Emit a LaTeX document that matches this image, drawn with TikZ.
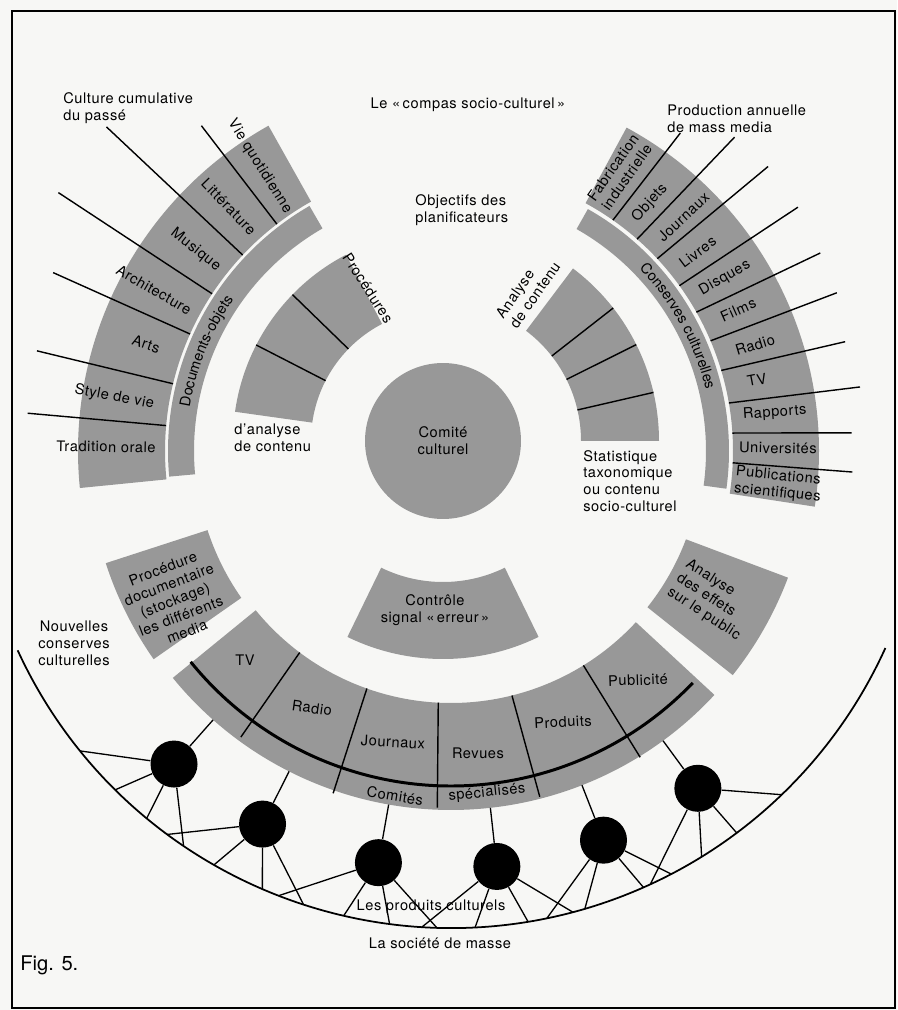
\documentclass[tikz,border=0pt]{standalone}
\usepackage{fontspec}
\setmainfont{TeX Gyre Heros}
\newfontfamily\lblfamily[LetterSpace=4.0]{TeX Gyre Heros}
\usetikzlibrary{decorations.text}
\definecolor{bandgray}{RGB}{152,152,152}
\definecolor{paper}{RGB}{247,247,245}
\newcommand{\lblfont}{\lblfamily\fontsize{8.3}{9.6}\selectfont}

\begin{document}
\begin{tikzpicture}[x=0.02cm, y=0.02cm,
    band/.style={fill=bandgray},
    rule/.style={line width=0.8pt},
    link/.style={line width=0.75pt},
    lbl/.style={font=\lblfont, inner sep=0pt},
    dot/.style={circle, fill=black, minimum size=0.94cm, inner sep=0pt}]

    % page and frame
    \fill[paper] (-451,451) rectangle (446,-559);
    \useasboundingbox (-451,451) rectangle (446,-559);
    \draw[line width=1.3pt] (-439,440) rectangle (444,-557);

    % outer rings
    \fill[band] (119.3:286) arc[start angle=119.3, end angle=185.7, radius=286] -- (185.7:373) arc[start angle=185.7, end angle=119.3, radius=373] -- cycle;
    \fill[band] (120:257) arc[start angle=120, end angle=185.2, radius=257] -- (185.2:283) arc[start angle=185.2, end angle=120, radius=283] -- cycle;
    \fill[band] (-8.7:282) arc[start angle=-8.7, end angle=61.5, radius=282] -- (61.5:368) arc[start angle=61.5, end angle=-8.7, radius=368] -- cycle;
    \fill[band] (-7.8:255) arc[start angle=-7.8, end angle=60.5, radius=255] -- (60.5:278) arc[start angle=60.5, end angle=-7.8, radius=278] -- cycle;
    \fill[band] (198:256) arc[start angle=198, end angle=215, radius=256] -- (215:363) arc[start angle=215, end angle=198, radius=363] -- cycle;
    \fill[band] (-38.5:251) arc[start angle=-38.5, end angle=-20.6, radius=251] -- (-20.6:360) arc[start angle=-20.6, end angle=-38.5, radius=360] -- cycle;
    \fill[band] (219.2:252) arc[start angle=219.2, end angle=317.2, radius=252] -- (317.2:359) arc[start angle=317.2, end angle=219.2, radius=359] -- cycle;

    % inner ring
    \begin{scope}[shift={(-8,10)}]
        \fill[band] (117.5:132) arc[start angle=117.5, end angle=172, radius=132] -- (172:210) arc[start angle=172, end angle=117.5, radius=210] -- cycle;
        \fill[band] (0:138) arc[start angle=0, end angle=53, radius=138] -- (53:216) arc[start angle=53, end angle=0, radius=216] -- cycle;
        \fill[band] (244:141) arc[start angle=244, end angle=296, radius=141] -- (296:218) arc[start angle=296, end angle=244, radius=218] -- cycle;
        \foreach \a in {135.8, 152.8}
            \draw[rule] (\a:132) -- (\a:210);
        \foreach \a in {13, 26.5, 38}
            \draw[rule] (\a:138) -- (\a:216);
    \end{scope}

    % dividers
    \foreach \a/\r in {127.5/410, 136.75/473, 146.65/470, 155.85/436, 166.4/426, 174.9/425}
        \draw[rule] (\a:286) -- (\a:\r);
    \foreach \a/\b/\r in {54.96/54.2/392, 48.7/47.9/423, 43/41.9/426, 35.9/35.1/424, 29.5/28.2/419, 23/22.3/417, 16.6/15.5/409, 9.8/8.9/414, 3.65/2.6/401, -2.4/-3/402}
        \draw[rule] (\a:282) -- (\b:\r);
    \foreach \a/\b/\r in {233.1/233.7/355, 250.5/251/362, 267.1/267.8/357, 284/284.4/357, 301.7/301.7/360}
        \draw[rule] (\a:252) -- (\b:\r);
    \draw[line width=1.7pt] (219:335) arc[start angle=219, end angle=316.2, radius=335];

    % mass society
    \draw[line width=1pt] (204.7:477) arc[start angle=204.7, end angle=335.6, radius=477];
    \foreach \i/\a in {1/228.5, 2/243.2, 3/260, 4/276.3, 5/291.4, 6/306.2} {
        \node[dot] (d\i) at (\a:418) {};
        \coordinate (r\i) at (\a:359);
        \draw[link] (d\i) -- (r\i);
    }
    \foreach \i/\k/\a in {1/1/218.96, 1/2/225.26, 1/3/230.36, 1/4/235.9,
                          2/1/233.5, 2/2/240.2, 2/3/246.7, 2/4/252,
                          3/1/248.8, 3/2/257, 3/3/262.6, 3/4/268.3,
                          4/1/266.5, 4/2/272.9, 4/3/279.3, 4/4/284.8,
                          5/1/281.6, 5/2/286.3, 5/3/293.8, 5/4/297.5,
                          6/1/294.7, 6/2/301.7, 6/3/306.8, 6/4/313.9} {
        \coordinate (m\i\k) at (\a:477);
        \draw[link] (d\i) -- (m\i\k);
    }

    % band texts
    \path[decorate, decoration={text along path, text align=center, text={|\lblfont|Documents-objets}}]
        (190:265) arc[start angle=190, end angle=125.6, radius=265];
    \path[decorate, decoration={text along path, text align=center, text={|\lblfont|Conserves culturelles}}]
        (60.5:262) arc[start angle=60.5, end angle=-2.9, radius=262];

    % left ring labels
    \node[lbl, rotate=-58] (vie) at (123.9:343) {Vie quotidienne};
    \node[lbl, rotate=-46] (litt) at (132.3:330) {Littérature};
    \node[lbl, rotate=-38] (musi) at (141.8:325) {Musique};
    \node[lbl, rotate=-30] (arch) at (151.5:338) {Architecture};
    \node[lbl, rotate=-19] (arts) at (160.7:323) {Arts};
    \node[lbl, rotate=-11] (style) at (170.9:341) {Style de vie};
    \node[lbl, rotate=-1] (trad) at (179.3:345) {Tradition orale};

    % right ring labels
    \node[lbl, rotate=55, align=center] (fabr) at (58.8:326) {Fabrication\\industrielle};
    \node[lbl, rotate=48] (obj) at (51.3:318) {Objets};
    \node[lbl, rotate=43] (journ) at (45.2:330) {Journaux};
    \node[lbl, rotate=37] (livr) at (38.9:317) {Livres};
    \node[lbl, rotate=30] (disq) at (32.3:324) {Disques};
    \node[lbl, rotate=24] (film) at (26.2:320) {Films};
    \node[lbl, rotate=17] (radr) at (19.2:322) {Radio};
    \node[lbl, rotate=11] (tvr) at (13.1:314) {TV};
    \node[lbl, rotate=4] (rapp) at (6.7:326) {Rapports};
    \node[lbl, rotate=-1] (univ) at (0.5:327) {Universités};
    \node[lbl, rotate=-6, align=left] (publ) at (-5.9:329) {Publications\\scientifiques};

    % bottom ring labels
    \node[lbl] (tvb) at (-206,-209) {TV};
    \node[lbl, rotate=-8] (radb) at (-139,-257) {Radio};
    \node[lbl, rotate=-3] (journb) at (-58,-291) {Journaux};
    \node[lbl] (revues) at (27,-302) {Revues};
    \node[lbl, rotate=3] (prodb) at (112,-271) {Produits};
    \node[lbl, rotate=2] (pub) at (187,-229) {Publicité};
    \node[lbl, rotate=-9] (comites) at (-56,-345) {Comités};
    \node[lbl, rotate=6] (special) at (36,-342) {spécialisés};

    % other labels
    \node[lbl] (compas) at (17,346) {Le «\,compas socio-culturel\,»};
    \node[lbl, anchor=west, align=left] (objectifs) at (-36,241) {Objectifs des\\planificateurs};
    \node[lbl, anchor=west, align=left] (culture) at (-388,343) {Culture cumulative\\du passé};
    \node[lbl, anchor=west, align=left] (production) at (216,332) {Production annuelle\\de mass media};
    \node[lbl, rotate=-57] (procedures) at (-83,163) {Procédures};
    \node[lbl, anchor=west, align=left] (danalyse) at (-217,13) {d’analyse\\de contenu};
    \node[lbl, rotate=55, align=left] (anacont) at (77,161) {Analyse\\de contenu};
    \node[lbl, anchor=west, align=left] (statist) at (132,-30) {Statistique\\taxonomique\\ou contenu\\socio-culturel};
    \node[circle, fill=bandgray, minimum size=3.12cm, font=\lblfont, align=center] (comite) at (-8,10) {Comité\\culturel};
    \node[lbl, align=center] (controle) at (-16,-159) {Contrôle\\signal «\,erreur\,»};
    \node[lbl, align=center] (nouvelles) at (-377,-192) {Nouvelles\\conserves\\culturelles};
    \node[lbl, align=center, rotate=21] (procdoc) at (-276,-149) {Procédure\\documentaire\\(stockage)\\les différents\\media};
    \node[lbl, align=left, rotate=-33] (effets) at (262,-149) {Analyse\\des effets\\sur le public};
    \node[lbl] (lesprod) at (-20,-456) {Les produits culturels};
    \node[lbl] (societe) at (-11,-492) {La société de masse};
    \node[anchor=west, inner sep=0pt, font=\fontsize{11.5}{12}\selectfont] (fig) at (-431,-514) {Fig. 5.};
\end{tikzpicture}
\end{document}
